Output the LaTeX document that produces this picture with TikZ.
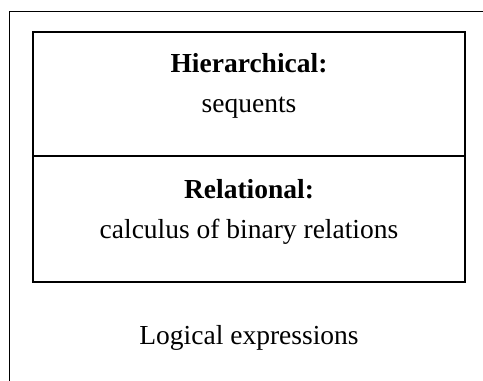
\documentclass[tikz,border=0pt]{standalone}
\usepackage{fontspec}
\setmainfont{Liberation Serif}
\usetikzlibrary{positioning}
\tikzset{
    panel/.style={rectangle, draw=black, line width=2pt, minimum width=432pt, inner sep=0pt},
    caption/.style={anchor=base, inner sep=0pt, font=\fontsize{27.5}{33}\selectfont},
    frame/.style={draw=black, line width=1.2pt}
}
\begin{document}
\begin{tikzpicture}[x=1pt, y=1pt]
    \useasboundingbox (0,0) rectangle (483,381);
    \clip (0,0) rectangle (483,381);

    % outer frame, runs off the page on the right and at the bottom
    \coordinate (frameSW) at (9.5,-20);
    \coordinate (frameNE) at (520,369.5);
    \draw[frame] (frameSW) rectangle (frameNE);

    % the two stacked panels
    \node[panel, minimum height=124pt] (hier) at (249,287) {};
    \node[panel, minimum height=126pt] (rel) at (249,162) {};

    \node[caption] (hiertitle) at (249,308) {\textbf{Hierarchical:}};
    \node[caption] (hiertext) at (249,268) {sequents};
    \node[caption] (reltitle) at (249,182) {\textbf{Relational:}};
    \node[caption] (reltext) at (249,142) {calculus of binary relations};

    \node[caption] (logic) at (249,36) {Logical expressions};
\end{tikzpicture}
\end{document}
